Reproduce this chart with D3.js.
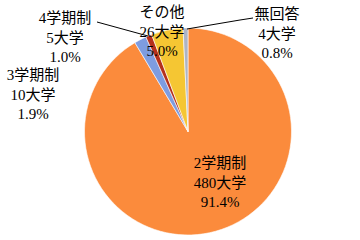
<!DOCTYPE html>
<html><head><meta charset="utf-8">
<script src="https://cdn.jsdelivr.net/npm/d3@7"></script>
<style>html,body{margin:0;padding:0;background:#fff;}svg{display:block;}</style>
</head><body>
<svg id="c" width="360" height="240"></svg>
<script>
const categories = ["2学期制", "3学期制", "4学期制", "その他", "無回答"];
const counts = [480, 10, 5, 26, 4];
const percents = ["91.4%", "1.9%", "1.0%", "5.0%", "0.8%"];
const colors = ["#FB8B3C", "#7E9CE0", "#B5301C", "#F5C633", "#AEB4C4"];
// label anchor positions (center x, first line y) and leader lines
const labelPos = [[220, 163], [33, 75], [65, 18], [162, 12], [277, 14]];
const leaders = [null, null, [[97, 22], [148, 36]], null, [[253, 18], [240, 20], [187, 29]]];

const svg = d3.select("#c");
const cx = 188, cy = 131.5, r = 103.5;
const pie = d3.pie().sort(null).value(d => d)(counts);
const arc = d3.arc().innerRadius(0).outerRadius(r);
const g = svg.append("g").attr("transform", `translate(${cx},${cy})`);
g.selectAll("path").data(pie).join("path")
  .attr("d", arc)
  .attr("fill", (d, i) => colors[i])
  .attr("stroke", "#fff").attr("stroke-width", 0.6);

const line = d3.line();
leaders.forEach(l => {
  if (l) svg.append("path").attr("d", line(l)).attr("fill", "none")
    .attr("stroke", "#000").attr("stroke-width", 1);
});

categories.forEach((c, i) => {
  const [x, y] = labelPos[i];
  const lines = [c, counts[i] + "大学", percents[i]];
  const t = svg.append("text").attr("text-anchor", "middle")
    .attr("font-family", "'Liberation Serif','Noto Sans CJK JP',serif")
    .attr("font-size", 15).attr("fill", "#000");
  lines.forEach((s, k) => {
    t.append("tspan").attr("x", x).attr("y", y + k * 19.5).attr("dy", "0.35em").text(s);
  });
});
</script>
</body></html>
